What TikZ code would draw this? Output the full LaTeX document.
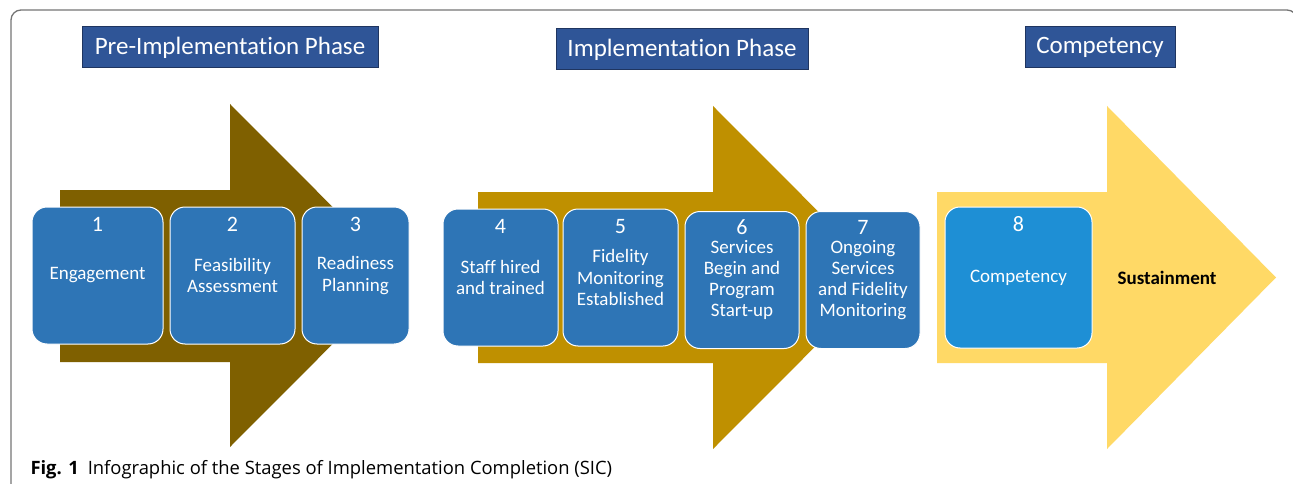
\documentclass[tikz,border=0pt]{standalone}
\usepackage{fontspec}
\setmainfont{Carlito}[Ligatures=NoCommon]
\newfontfamily\capfont{Open Sans}
\usetikzlibrary{positioning}
\definecolor{phaseblue}{HTML}{2F5597}
\definecolor{phaseedge}{HTML}{1F3560}
\definecolor{stageblue}{HTML}{2E75B6}
\definecolor{compblue}{HTML}{1E8FD5}
\definecolor{preimp}{HTML}{7F6000}
\definecolor{imp}{HTML}{BF9000}
\definecolor{sustain}{HTML}{FFD966}
\definecolor{framegray}{HTML}{757575}
\begin{document}
\begin{tikzpicture}[
x=1pt, y=-1pt,
font=\fontsize{19}{21.5}\selectfont
]

\tikzstyle{stage} = [draw=white, line width=1pt, fill=stageblue, rounded corners=15pt, text=white, align=center, minimum height=137pt, inner sep=1pt]
\tikzstyle{phase} = [draw=phaseedge, line width=1pt, fill=phaseblue, text=white, minimum height=41pt, font=\fontsize{25}{30}\selectfont]
\tikzstyle{num} = [text=white, font=\fontsize{22}{24}\selectfont, anchor=center, inner sep=0pt, yshift=-18pt]

\fill[white] (0,0) rectangle (1293,484);
\useasboundingbox (0,0) rectangle (1293,484);
\draw[framegray, line width=1.3pt, rounded corners=10pt] (11,10) rectangle (1297,520);

% the three phase arrows
\fill[preimp] (60,190) -- (230,190) -- (230,104) -- (401,275.5) -- (230,447) -- (230,362) -- (60,362) -- cycle;
\fill[imp] (478,192) -- (713,192) -- (713,106) -- (884,277.5) -- (713,449) -- (713,363) -- (478,363) -- cycle;
\fill[sustain] (937,192) -- (1107,192) -- (1107,106) -- (1276,277.5) -- (1107,449) -- (1107,363) -- (937,363) -- cycle;

% phase titles
\node[phase, minimum width=296pt] (pre) at (230,47.5) {Pre-Implementation Phase};
\node[phase, minimum width=252pt] (impl) at (682,49.5) {Implementation Phase};
\node[phase, minimum width=150pt] (comp) at (1100,47.5) {Competency};

% stages
\node[stage, minimum width=131pt, label={[num]north:1}] (s1) at (97.5,275.5) {Engagement};
\node[stage, minimum width=125pt, label={[num]north:2}] (s2) at (232.5,275.5) {Feasibility\\Assessment};
\node[stage, minimum width=107pt, label={[num]north:3}] (s3) at (355.5,275.5) {Readiness\\Planning};

\node[stage, minimum width=115pt, label={[num]north:4}] (s4) at (500.5,277.5) {Staff hired\\and trained};
\node[stage, minimum width=115pt, label={[num]north:5}] (s5) at (620.5,277.5) {Fidelity\\Monitoring\\Established};
\node[stage, minimum width=114pt, label={[num, yshift=1.5pt]north:6}, font=\fontsize{19}{21}\selectfont] (s6) at (742,280) {Services\\Begin and\\Program\\Start-up};
\node[stage, minimum width=114pt, label={[num, yshift=1.5pt]north:7}, font=\fontsize{19}{21}\selectfont] (s7) at (863,280) {Ongoing\\Services\\and Fidelity\\Monitoring};

\node[stage, fill=compblue, minimum width=147pt, minimum height=141pt, label={[num]north:8}] (s8) at (1018.5,277.5) {Competency};
\node[font=\bfseries\fontsize{19}{21.5}\selectfont] (sust) at (1167,278) {Sustainment};

\node[anchor=base west, font=\capfont\fontsize{18.4}{22}\selectfont] (cap) at (27,474) {\textbf{Fig. 1}\hspace{9pt}Infographic of the Stages of Implementation Completion (SIC)};
\end{tikzpicture}
\end{document}
